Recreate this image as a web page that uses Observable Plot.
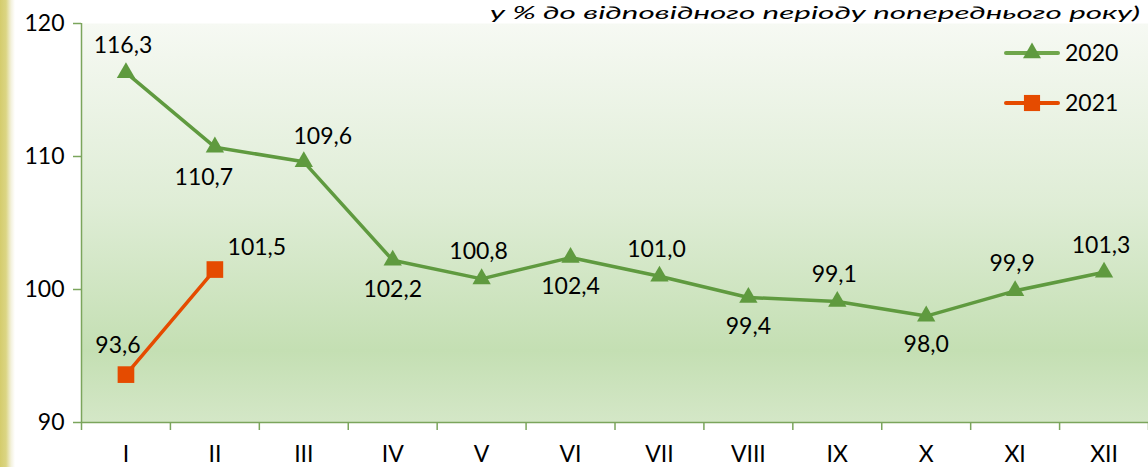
<!DOCTYPE html>
<html>
<head>
<meta charset="utf-8">
<script src="https://cdn.jsdelivr.net/npm/d3@7"></script>
<script src="https://cdn.jsdelivr.net/npm/@observablehq/plot@0.6"></script>
<style>
  html, body { margin: 0; padding: 0; background: #fff; overflow: hidden; }
  #wrap { position: relative; width: 1148px; height: 467px; }
  #strip { position: absolute; left: 0; top: 0; width: 16px; height: 467px;
    background: linear-gradient(to right, #d4cc6c 0px, #dbd583 6px, #f3f1dc 11px, #ffffff 15px); }
  #chart { position: absolute; left: 0; top: 0; }
  #overlay { position: absolute; left: 0; top: 0; pointer-events: none; }
</style>
</head>
<body>
<div id="wrap">
  <div id="strip"></div>
  <div id="chart"></div>
  <svg id="overlay" width="1148" height="467"></svg>
</div>
<script>
// ---- data ----
const months = ["I","II","III","IV","V","VI","VII","VIII","IX","X","XI","XII"];
const values2020 = [116.3,110.7,109.6,102.2,100.8,102.4,101.0,99.4,99.1,98.0,99.9,101.3];
const values2021 = [93.6,101.5];
const place2020 = ["above","belowLeft","aboveRight","below","above","below","above","below","above","below","above","above"];
const place2021 = ["aboveLeft","right"];
const yTicks = [90,100,110,120];
const seriesNames = ["2020","2021"];
const titleText = "у % до відповідного періоду попереднього року)";

// ---- styles ----
const green = "#5f9a3f";
const greenLegend = "#6fa64b";
const orange = "#e54b00";
const axisColor = "#7ba55c";
const font = "Lato, 'Open Sans', sans-serif";
const fs = 23;
const offsets = {
  above: [-3, -27], below: [0, 29], belowLeft: [-11, 30], aboveRight: [19, -25],
  aboveLeft: [-8, -29], right: [42, -22]
};
const fmt = v => v.toFixed(1).replace(".", ",");

const d2020 = values2020.map((v, i) => ({i: i + 0.5, v, place: place2020[i]}));
const d2021 = values2021.map((v, i) => ({i: i + 0.5, v, place: place2021[i]}));

function labels(data) {
  return Object.entries(offsets).map(([k, [dx, dy]]) =>
    Plot.text(data.filter(d => d.place === k), {
      x: "i", y: "v", text: d => fmt(d.v), dx, dy, fill: "#000", fontSize: fs
    }));
}

const plot = Plot.plot({
  width: 1148, height: 467,
  marginTop: 23, marginBottom: 45, marginLeft: 81, marginRight: 0,
  x: {domain: [0, 12], axis: null},
  y: {domain: [90, 120], axis: null},
  style: {fontFamily: font, fontSize: fs + "px", background: "transparent", color: "#000", overflow: "visible"},
  marks: [
    Plot.frame({fill: "url(#plotbg)", stroke: null}),
    Plot.axisY({ticks: yTicks, tickSize: 8, tickPadding: 9, stroke: axisColor, strokeWidth: 1.5, fill: "#000", label: null, tickFormat: d => String(d)}),
    Plot.axisX({ticks: d3.range(13), tickSize: 8, tickFormat: () => "", stroke: axisColor, strokeWidth: 1.5, label: null}),
    Plot.axisX({ticks: months.map((_, i) => i + 0.5), tickSize: 0, tickPadding: 23, tickFormat: d => months[Math.round(d - 0.5)], fill: "#000", label: null}),
    Plot.ruleX([0], {stroke: axisColor, strokeWidth: 1.5}),
    Plot.ruleY([90], {stroke: axisColor, strokeWidth: 1.5}),
    Plot.line(d2020, {x: "i", y: "v", stroke: green, strokeWidth: 3.5}),
    Plot.dot(d2020, {x: "i", y: "v", symbol: "triangle", r: 6.8, fill: green, stroke: null}),
    Plot.line(d2021, {x: "i", y: "v", stroke: orange, strokeWidth: 3.5}),
    Plot.dot(d2021, {x: "i", y: "v", symbol: "square", r: 9.4, fill: orange, stroke: null}),
    ...labels(d2020),
    ...labels(d2021)
  ]
});

// gradient for plot background
const svg = d3.select(plot);
const defs = svg.insert("defs", ":first-child");
const grad = defs.append("linearGradient").attr("id", "plotbg")
  .attr("x1", 0).attr("y1", 0).attr("x2", 0).attr("y2", 1);
[[0, "#f6f9f3"], [0.45, "#dfedd6"], [0.82, "#c4dfb3"], [1, "#d4e7c7"]]
  .forEach(([o, c]) => grad.append("stop").attr("offset", o).attr("stop-color", c));

document.getElementById("chart").appendChild(plot);

// overlay: title and legend
const ov = d3.select("#overlay");
ov.append("text")
  .attr("x", 490).attr("y", 19)
  .attr("textLength", 650).attr("lengthAdjust", "spacingAndGlyphs")
  .attr("font-family", font).attr("font-style", "italic").attr("font-size", 18)
  .attr("fill", "#000").text(titleText);

const legendRows = [
  {name: seriesNames[0], color: greenLegend, sym: d3.symbolTriangle, size: 140, y: 53},
  {name: seriesNames[1], color: orange, sym: d3.symbolSquare, size: 260, y: 103}
];
legendRows.forEach(r => {
  const g = ov.append("g");
  g.append("line").attr("x1", 1006).attr("x2", 1058).attr("y1", r.y).attr("y2", r.y)
    .attr("stroke", r.color).attr("stroke-width", 4).attr("stroke-linecap", "round");
  g.append("path").attr("d", d3.symbol(r.sym, r.size)())
    .attr("transform", `translate(1032,${r.y})`).attr("fill", r.sym === d3.symbolTriangle ? green : r.color);
  g.append("text").attr("x", 1065).attr("y", r.y).attr("dy", "0.36em")
    .attr("font-family", font).attr("font-size", fs).attr("fill", "#000").text(r.name);
});
</script>
</body>
</html>
